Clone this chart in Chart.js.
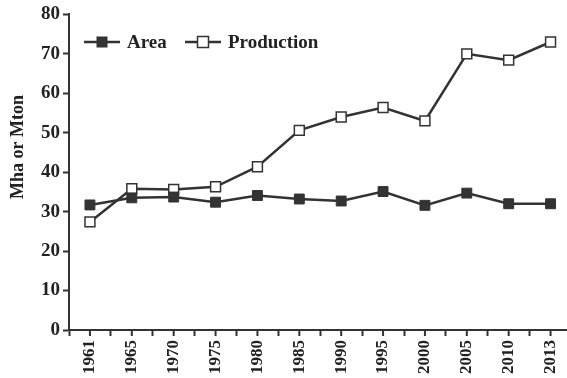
<!DOCTYPE html>
<html lang="en">
<head>
    <meta charset="UTF-8">
    <title>Area and Production</title>
    <script src="https://cdn.jsdelivr.net/npm/chart.js"></script>
    <style>
        html, body { margin: 0; padding: 0; overflow: hidden; background: #fff; }
        .estilizar { width: 580px; height: 378px; }
    </style>
</head>
<body>
    <div class="estilizar">
        <canvas id="grafico"></canvas>
    </div>

<script>
    // dados
    const anos = ['1961', '1965', '1970', '1975', '1980', '1985', '1990', '1995', '2000', '2005', '2010', '2013'];
    const area = [31.7, 33.5, 33.7, 32.4, 34.1, 33.2, 32.7, 35.1, 31.6, 34.7, 32.0, 32.0];
    const producao = [27.4, 35.8, 35.6, 36.3, 41.4, 50.6, 54.0, 56.4, 53.0, 70.0, 68.4, 73.0];
    const ticksY = [0, 10, 20, 30, 40, 50, 60, 70, 80];

    const cor = '#333333';
    const fonte = 'Liberation Serif';

    // marcas extras no eixo x (no centro de cada categoria), titulo do eixo y e legenda com linha
    const extras = {
        id: 'extras',
        afterDraw(chart) {
            const ctx = chart.ctx;
            const x = chart.scales.x;
            const bottom = chart.chartArea.bottom;
            ctx.save();
            ctx.strokeStyle = cor;
            ctx.lineWidth = 2;
            for (let i = 0; i < anos.length; i++) {
                const px = x.getPixelForValue(i);
                ctx.beginPath();
                ctx.moveTo(px, bottom);
                ctx.lineTo(px, bottom + 6);
                ctx.stroke();
            }

            // titulo do eixo y
            ctx.save();
            ctx.translate(18, 147);
            ctx.rotate(-Math.PI / 2);
            ctx.font = 'bold 18px ' + fonte;
            ctx.fillStyle = '#222';
            ctx.textAlign = 'center';
            ctx.textBaseline = 'middle';
            ctx.fillText('Mha or Mton', 0, 0);
            ctx.restore();

            // legenda
            const itens = [
                { texto: 'Area', x0: 84, cheio: true },
                { texto: 'Production', x0: 185, cheio: false }
            ];
            const y = 42;
            ctx.font = 'bold 19px ' + fonte;
            ctx.textBaseline = 'middle';
            itens.forEach(function (it) {
                ctx.strokeStyle = cor;
                ctx.lineWidth = 2.5;
                ctx.beginPath();
                ctx.moveTo(it.x0, y);
                ctx.lineTo(it.x0 + 36, y);
                ctx.stroke();
                const cx = it.x0 + 18;
                if (it.cheio) {
                    ctx.fillStyle = cor;
                    ctx.fillRect(cx - 5.5, y - 5.5, 11, 11);
                } else {
                    ctx.fillStyle = '#fff';
                    ctx.fillRect(cx - 5.5, y - 5.5, 11, 11);
                    ctx.lineWidth = 1.5;
                    ctx.strokeRect(cx - 5.5, y - 5.5, 11, 11);
                }
                ctx.fillStyle = '#222';
                ctx.fillText(it.texto, it.x0 + 43, y + 1);
            });
            ctx.restore();
        }
    };

    const dados = {
        labels: anos,
        datasets: [{
            label: 'Area',
            data: area,
            borderColor: cor,
            borderWidth: 2.5,
            backgroundColor: cor,
            pointStyle: 'rect',
            pointRadius: 7,
            pointBorderWidth: 1,
            pointBackgroundColor: cor,
            pointBorderColor: cor,
            tension: 0
        }, {
            label: 'Production',
            data: producao,
            borderColor: cor,
            borderWidth: 2.5,
            backgroundColor: '#fff',
            pointStyle: 'rect',
            pointRadius: 7,
            pointBorderWidth: 1.5,
            pointBackgroundColor: '#fff',
            pointBorderColor: cor,
            tension: 0
        }]
    };

    const config = {
        type: 'line',
        data: dados,
        plugins: [extras],
        options: {
            responsive: true,
            maintainAspectRatio: false,
            animation: false,
            layout: { padding: { top: 9, right: 7, left: 0, bottom: 0 } },
            plugins: {
                legend: { display: false },
                tooltip: { enabled: false }
            },
            scales: {
                x: {
                    offset: true,
                    grid: {
                        offset: true,
                        drawOnChartArea: false,
                        drawTicks: true,
                        tickLength: 6,
                        tickWidth: 2,
                        tickColor: cor
                    },
                    border: { display: true, color: cor, width: 2 },
                    ticks: {
                        maxRotation: 90,
                        minRotation: 90,
                        autoSkip: false,
                        padding: 4,
                        color: '#222',
                        font: { family: fonte, size: 17, weight: 'bold' }
                    },
                    afterFit(scale) { scale.height = 48; }
                },
                y: {
                    min: 0,
                    max: 80,
                    afterBuildTicks(scale) {
                        scale.ticks = ticksY.map(v => ({ value: v }));
                    },
                    grid: {
                        drawOnChartArea: false,
                        drawTicks: true,
                        tickLength: 6,
                        tickWidth: 2,
                        tickColor: cor
                    },
                    border: { display: true, color: cor, width: 2 },
                    ticks: {
                        padding: 3,
                        color: '#222',
                        font: { family: fonte, size: 19, weight: 'bold' }
                    },
                    afterFit(scale) { scale.width = 69; }
                }
            }
        }
    };

    new Chart(document.getElementById('grafico'), config);
</script>
</body>
</html>
